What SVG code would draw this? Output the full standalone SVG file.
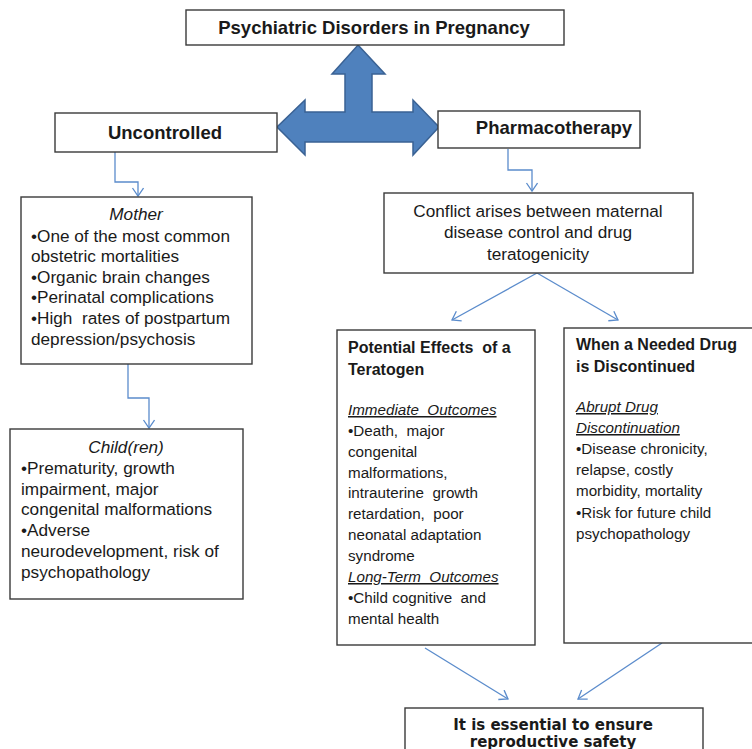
<svg xmlns="http://www.w3.org/2000/svg" width="752" height="749" viewBox="0 0 752 749">
<style>
.box{fill:#fff;stroke:#3a3a3a;stroke-width:1.4}
.t{font-family:"Liberation Sans",Arial,sans-serif;font-size:17.2px;fill:#1a1a1a}
.h{font-weight:bold;font-size:18.5px}
.s{font-size:15.2px}
.sb{font-size:16px;font-weight:bold}
.i{font-style:italic}
.u{text-decoration:underline}
.con{fill:none;stroke:#5b8ccc;stroke-width:1.3}
</style>
<defs>
<marker id="ah" markerUnits="userSpaceOnUse" markerWidth="16" markerHeight="16" refX="9" refY="6" orient="auto">
<path d="M1,0.5 L9,6 L1,11.5" fill="none" stroke="#5b8ccc" stroke-width="1.3"/>
</marker>
</defs>
<rect width="752" height="749" fill="#fff"/>

<g id="block-arrow">
<path d="M358,45 L385,74 L372,74 L372,112 L413,112 L413,100 L439,127 L413,155 L413,142 L305,142 L305,155 L277,127 L305,100 L305,112 L345,112 L345,74 L332,74 Z" fill="#4f81bd" stroke="#3a6294" stroke-width="1.5" stroke-linejoin="miter"/>
</g>

<g id="connectors">
<polyline class="con" points="115,152 115,182 138,182 138,196" marker-end="url(#ah)"/>
<polyline class="con" points="128,364 128,398 149,398 149,428" marker-end="url(#ah)"/>
<polyline class="con" points="508,149 508,170 532,170 532,191" marker-end="url(#ah)"/>
<line class="con" x1="537" y1="273" x2="452" y2="320" marker-end="url(#ah)"/>
<line class="con" x1="537" y1="273" x2="618" y2="320" marker-end="url(#ah)"/>
<line class="con" x1="425" y1="648" x2="508" y2="699" marker-end="url(#ah)"/>
<line class="con" x1="662" y1="643" x2="578" y2="699" marker-end="url(#ah)"/>
</g>

<g id="title">
<rect class="box" x="186" y="10" width="378" height="35"/>
<text class="t h" x="374" y="34" text-anchor="middle">Psychiatric Disorders in Pregnancy</text>
</g>

<g id="uncontrolled">
<rect class="box" x="55" y="113" width="222" height="39"/>
<text class="t h" x="165" y="139" text-anchor="middle">Uncontrolled</text>
</g>

<g id="pharmacotherapy">
<rect class="box" x="438" y="111" width="202" height="37"/>
<text class="t h" x="554" y="134" text-anchor="middle">Pharmacotherapy</text>
</g>

<g id="mother">
<rect class="box" x="21" y="197" width="231" height="167"/>
<text class="t i" x="136" y="220" text-anchor="middle">Mother</text>
<text class="t" x="31" y="242">•One of the most common</text>
<text class="t" x="31" y="262">obstetric mortalities</text>
<text class="t" x="31" y="283">•Organic brain changes</text>
<text class="t" x="31" y="303">•Perinatal complications</text>
<text class="t" x="31" y="324" xml:space="preserve">•High  rates of postpartum</text>
<text class="t" x="31" y="345">depression/psychosis</text>
</g>

<g id="children">
<rect class="box" x="10" y="429" width="233" height="170"/>
<text class="t i" x="126" y="453" text-anchor="middle">Child(ren)</text>
<text class="t" x="21" y="474">•Prematurity, growth</text>
<text class="t" x="21" y="495">impairment, major</text>
<text class="t" x="21" y="515">congenital malformations</text>
<text class="t" x="21" y="536">•Adverse</text>
<text class="t" x="21" y="557">neurodevelopment, risk of</text>
<text class="t" x="21" y="578">psychopathology</text>
</g>

<g id="conflict">
<rect class="box" x="384" y="193" width="309" height="80"/>
<text class="t" x="538" y="217" text-anchor="middle">Conflict arises between maternal</text>
<text class="t" x="538" y="238" text-anchor="middle">disease control and drug</text>
<text class="t" x="538" y="260" text-anchor="middle">teratogenicity</text>
</g>

<g id="teratogen">
<rect class="box" x="337" y="330" width="198" height="315"/>
<text class="t sb" x="348" y="353" xml:space="preserve">Potential Effects  of a</text>
<text class="t sb" x="348" y="375">Teratogen</text>
<text class="t s i u" x="348" y="415" xml:space="preserve">Immediate  Outcomes</text>
<text class="t s" x="348" y="436" xml:space="preserve">•Death,  major</text>
<text class="t s" x="348" y="457">congenital</text>
<text class="t s" x="348" y="478">malformations,</text>
<text class="t s" x="348" y="498" xml:space="preserve">intrauterine  growth</text>
<text class="t s" x="348" y="519" xml:space="preserve">retardation,  poor</text>
<text class="t s" x="348" y="540">neonatal adaptation</text>
<text class="t s" x="348" y="561">syndrome</text>
<text class="t s i u" x="348" y="582" xml:space="preserve">Long-Term  Outcomes</text>
<text class="t s" x="348" y="603" xml:space="preserve">•Child cognitive  and</text>
<text class="t s" x="348" y="624">mental health</text>
</g>

<g id="discontinued">
<rect class="box" x="564" y="328" width="200" height="315"/>
<text class="t sb" x="576" y="350">When a Needed Drug</text>
<text class="t sb" x="576" y="372">is Discontinued</text>
<text class="t s i u" x="576" y="412">Abrupt Drug</text>
<text class="t s i u" x="576" y="433">Discontinuation</text>
<text class="t s" x="576" y="454">•Disease chronicity,</text>
<text class="t s" x="576" y="475">relapse, costly</text>
<text class="t s" x="576" y="496">morbidity, mortality</text>
<text class="t s" x="576" y="518">•Risk for future child</text>
<text class="t s" x="576" y="539">psychopathology</text>
</g>

<g id="safety">
<rect class="box" x="405" y="708" width="298" height="60"/>
<text x="553" y="730" text-anchor="middle" font-family="'DejaVu Sans',Verdana,sans-serif" font-weight="bold" font-size="15" fill="#1a1a1a">It is essential to ensure</text>
<text x="553" y="747" text-anchor="middle" font-family="'DejaVu Sans',Verdana,sans-serif" font-weight="bold" font-size="15" fill="#1a1a1a">reproductive safety</text>
</g>
</svg>
